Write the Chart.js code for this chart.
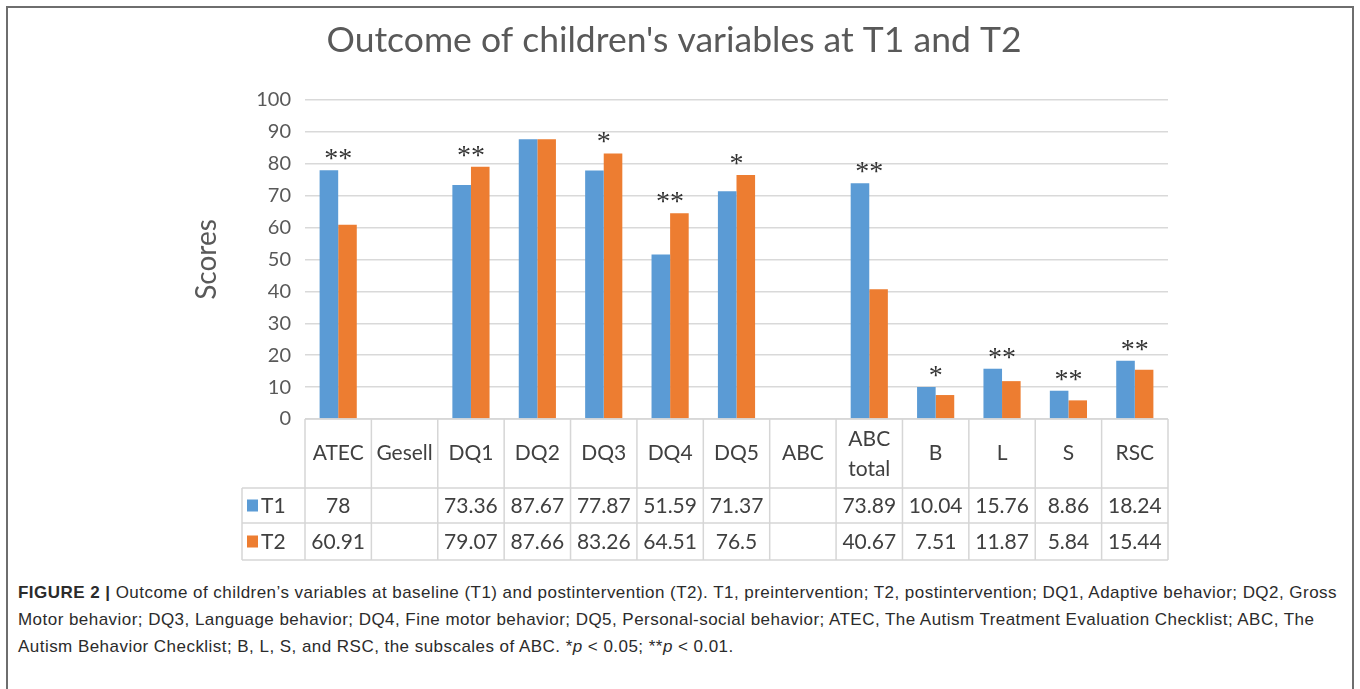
<!DOCTYPE html>
<html>
<head>
<meta charset="utf-8">
<script src="https://cdn.jsdelivr.net/npm/chart.js@4.4.1/dist/chart.umd.min.js"></script>
<style>
  html, body { margin: 0; padding: 0; background: #fff; width: 1360px; height: 689px; overflow: hidden; }
  #frame { position: absolute; left: 6px; top: 6px; width: 1348px; height: 700px; border: 2px solid #6e6e6e; box-sizing: border-box; }
  #wrap { position: absolute; left: 0; top: 0; width: 1360px; height: 570px; }
  #caption { position: absolute; left: 18px; top: 579px; font-family: "Liberation Sans", Arial, sans-serif; font-size: 17px; letter-spacing: 0.46px; line-height: 27px; color: #2b2b2b; white-space: nowrap; }
  #caption b { font-weight: bold; }
</style>
</head>
<body>
<div id="frame"></div>
<div id="wrap"><canvas id="c" width="1360" height="570"></canvas></div>
<div id="caption">
  <div><b>FIGURE 2 |</b> Outcome of children’s variables at baseline (T1) and postintervention (T2). T1, preintervention; T2, postintervention; DQ1, Adaptive behavior; DQ2, Gross</div>
  <div>Motor behavior; DQ3, Language behavior; DQ4, Fine motor behavior; DQ5, Personal-social behavior; ATEC, The Autism Treatment Evaluation Checklist; ABC, The</div>
  <div>Autism Behavior Checklist; B, L, S, and RSC, the subscales of ABC. *<i>p</i> &lt; 0.05; **<i>p</i> &lt; 0.01.</div>
</div>
<script>
const categories = ['ATEC', 'Gesell', 'DQ1', 'DQ2', 'DQ3', 'DQ4', 'DQ5', 'ABC', ['ABC', 'total'], 'B', 'L', 'S', 'RSC'];
const t1Values = [78, null, 73.36, 87.67, 77.87, 51.59, 71.37, null, 73.89, 10.04, 15.76, 8.86, 18.24];
const t2Values = [60.91, null, 79.07, 87.66, 83.26, 64.51, 76.5, null, 40.67, 7.51, 11.87, 5.84, 15.44];
const significance = ['**', '', '**', '', '*', '**', '*', '', '**', '*', '**', '**', '**'];
const seriesNames = ['T1', 'T2'];
const yTicks = [0, 10, 20, 30, 40, 50, 60, 70, 80, 90, 100];

const BLUE = '#5B9BD5';
const ORANGE = '#ED7D31';
const FONT = 'Lato, "Open Sans", sans-serif';

const tablePlugin = {
  id: 'dataTable',
  afterDraw(chart) {
    const ctx = chart.ctx;
    const x = chart.scales.x;
    const area = chart.chartArea;
    const n = categories.length;
    const cw = (area.right - area.left) / n;
    const top = area.bottom;
    const hdrBottom = top + 69;
    const r1Bottom = hdrBottom + 35;
    const r2Bottom = r1Bottom + 37;
    const legLeft = 242;
    ctx.save();
    ctx.strokeStyle = '#d6d6d6';
    ctx.lineWidth = 1.5;
    ctx.beginPath();
    ctx.moveTo(area.left, top); ctx.lineTo(area.right, top);
    ctx.moveTo(legLeft, hdrBottom); ctx.lineTo(area.right, hdrBottom);
    ctx.moveTo(legLeft, r1Bottom); ctx.lineTo(area.right, r1Bottom);
    ctx.moveTo(legLeft, r2Bottom); ctx.lineTo(area.right, r2Bottom);
    for (let i = 0; i <= n; i++) {
      const vx = area.left + i * cw;
      ctx.moveTo(vx, top); ctx.lineTo(vx, r2Bottom);
    }
    ctx.moveTo(legLeft, hdrBottom); ctx.lineTo(legLeft, r2Bottom);
    ctx.stroke();

    ctx.fillStyle = '#404040';
    ctx.font = '21px ' + FONT;
    ctx.textAlign = 'center';
    ctx.textBaseline = 'middle';
    for (let i = 0; i < n; i++) {
      const cx = x.getPixelForValue(i);
      const lab = categories[i];
      if (Array.isArray(lab)) {
        ctx.fillText(lab[0], cx, top + 20);
        ctx.fillText(lab[1], cx, top + 50);
      } else {
        ctx.fillText(lab, cx, (top + hdrBottom) / 2);
      }
      if (t1Values[i] !== null) ctx.fillText(String(t1Values[i]), cx, (hdrBottom + r1Bottom) / 2 + 1);
      if (t2Values[i] !== null) ctx.fillText(String(t2Values[i]), cx, (r1Bottom + r2Bottom) / 2 + 1);
    }
    const rows = [[hdrBottom, r1Bottom, BLUE], [r1Bottom, r2Bottom, ORANGE]];
    ctx.textAlign = 'left';
    rows.forEach((r, k) => {
      const cy = (r[0] + r[1]) / 2;
      ctx.fillStyle = r[2];
      ctx.fillRect(247, cy - 6, 11, 12);
      ctx.fillStyle = '#404040';
      ctx.fillText(seriesNames[k], 261, cy + 1);
    });

    ctx.fillStyle = '#333333';
    ctx.font = '28px "Liberation Serif", serif';
    ctx.textAlign = 'center';
    ctx.textBaseline = 'alphabetic';
    const y = chart.scales.y;
    for (let i = 0; i < n; i++) {
      if (!significance[i]) continue;
      const m = Math.max(t1Values[i] || 0, t2Values[i] || 0);
      const py = y.getPixelForValue(m) - 17;
      ctx.fillText(significance[i], x.getPixelForValue(i), py + 14);
    }
    ctx.restore();
  }
};

new Chart(document.getElementById('c'), {
  type: 'bar',
  data: {
    labels: categories,
    datasets: [
      { label: seriesNames[0], data: t1Values, backgroundColor: BLUE, borderWidth: 0 },
      { label: seriesNames[1], data: t2Values, backgroundColor: ORANGE, borderWidth: 0 }
    ]
  },
  options: {
    responsive: false,
    animation: false,
    devicePixelRatio: 1,
    layout: { padding: { left: 180, right: 192, top: 0, bottom: 151 } },
    datasets: { bar: { categoryPercentage: 0.56, barPercentage: 1.0 } },
    plugins: {
      legend: { display: false },
      tooltip: { enabled: false },
      title: {
        display: true,
        text: "Outcome of children's variables at T1 and T2",
        color: '#595959',
        font: { family: FONT, size: 35.5, weight: 'normal' },
        padding: { top: 19, bottom: 38.4 }
      }
    },
    scales: {
      x: {
        display: true,
        grid: { display: false, drawTicks: false },
        border: { display: false },
        ticks: { display: false },
        afterFit(s) { s.height = 0; }
      },
      y: {
        min: 0, max: 100,
        afterBuildTicks(s) { s.ticks = yTicks.map(v => ({ value: v })); },
        afterFit(s) { s.width = 125; },
        border: { display: false },
        grid: { color: '#d9d9d9', lineWidth: 1.5, drawTicks: false },
        ticks: { color: '#595959', font: { family: FONT, size: 20 }, padding: 14 },
        title: {
          display: true,
          text: 'Scores',
          color: '#595959',
          font: { family: FONT, size: 28 },
          padding: { top: 10, bottom: 0 }
        }
      }
    }
  },
  plugins: [tablePlugin]
});
</script>
</body>
</html>
